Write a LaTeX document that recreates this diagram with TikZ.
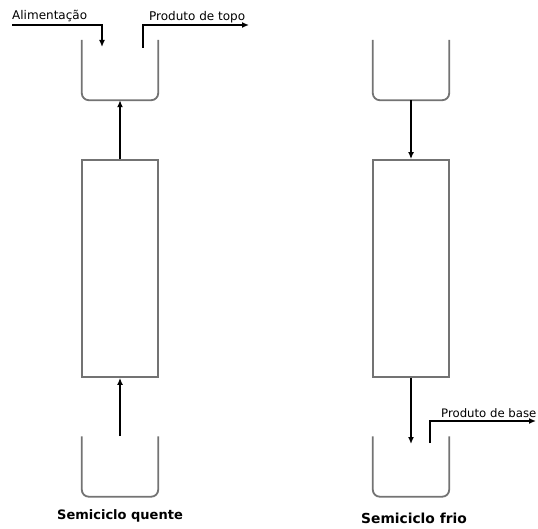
\documentclass[tikz,border=0pt]{standalone}
\usepackage{fontspec}
\setmainfont{DejaVu Sans}
\usetikzlibrary{arrows.meta}
\begin{document}
\begin{tikzpicture}[x=1pt,y=-1pt,
  vesselbox/.style={draw=none,minimum width=76pt,minimum height=60pt,inner sep=0pt},
  vesselline/.style={draw=gray!90!black,line width=1.8pt,rounded corners=7pt},
  colbox/.style={draw=gray!90!black,line width=1.8pt,minimum width=76pt,minimum height=217pt,inner sep=0pt},
  flow/.style={draw=black,line width=1.8pt,-{Latex[length=7pt,width=6pt]}},
  small/.style={font=\fontsize{12}{14}\selectfont,inner sep=0pt,anchor=base west},
  caption/.style={font=\bfseries\fontsize{13}{15}\selectfont,inner sep=0pt}]
\useasboundingbox (0,0) rectangle (538,529);
% left half
\node[vesselbox] (tl) at (120,70) {};
\node[colbox] (cl) at (120,268.5) {};
\node[vesselbox] (bl) at (120,466.5) {};
\draw[vesselline] (tl.north west) -- (tl.south west) -- (tl.south east) -- (tl.north east);
\draw[vesselline] (bl.north west) -- (bl.south west) -- (bl.south east) -- (bl.north east);
\draw[flow] (cl.north) -- (tl.south);
\coordinate (blin) at (120,436);
\draw[flow] (blin) -- (cl.south);
\coordinate (fa) at (12,25);
\coordinate (fb) at (102,47);
\draw[flow] (fa) -| (fb);
\node[small] (lfeed) at (12,20) {Alimentação};
\coordinate (ta) at (143,48);
\coordinate (tb) at (249,25);
\draw[flow] (ta) |- (tb);
\node[small] (ltop) at (149,21) {Produto de topo};
\node[caption] (capl) at (120,516) {Semiciclo quente};
% right half
\node[vesselbox] (tr) at (411,70) {};
\node[colbox] (cr) at (411,268.5) {};
\node[vesselbox] (br) at (411,466.5) {};
\draw[vesselline] (tr.north west) -- (tr.south west) -- (tr.south east) -- (tr.north east);
\draw[vesselline] (br.north west) -- (br.south west) -- (br.south east) -- (br.north east);
\draw[flow] (tr.south) -- (cr.north);
\coordinate (brin) at (411,444);
\draw[flow] (cr.south) -- (brin);
\coordinate (ba) at (430,443);
\coordinate (bb) at (536,421);
\draw[flow] (ba) |- (bb);
\node[small,font=\fontsize{11.7}{14}\selectfont] (lbase) at (441,417) {Produto de base};
\node[caption,font=\bfseries\fontsize{13.8}{16}\selectfont] (capr) at (414,518) {Semiciclo frio};
\end{tikzpicture}
\end{document}
